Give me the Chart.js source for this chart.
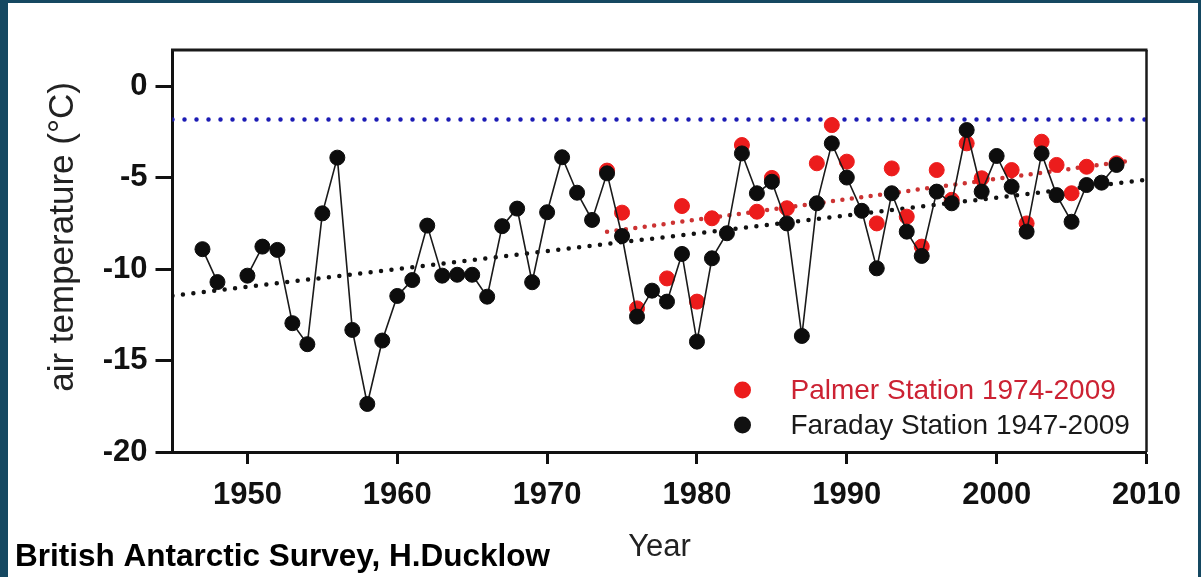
<!DOCTYPE html>
<html>
<head>
<meta charset="utf-8">
<title>Air temperature at Faraday and Palmer stations</title>
<script src="https://cdn.jsdelivr.net/npm/chart.js@4.4.1/dist/chart.umd.min.js"></script>
<style>
    html, body { margin: 0; padding: 0; }
    body { width: 1201px; height: 577px; background: #154861; overflow: hidden; }
    .panel { position: absolute; left: 8px; top: 3px; width: 1190px; height: 574px; background: #fff; }
</style>
</head>
<body>
<div class="panel"><canvas id="tempChart"></canvas></div>
<script>
// Annual mean air temperature (°C)
const faradayYears = [1947, 1948, 1949, 1950, 1951, 1952, 1953, 1954, 1955, 1956, 1957, 1958, 1959,
    1960, 1961, 1962, 1963, 1964, 1965, 1966, 1967, 1968, 1969, 1970, 1971, 1972, 1973, 1974,
    1975, 1976, 1977, 1978, 1979, 1980, 1981, 1982, 1983, 1984, 1985, 1986, 1987, 1988, 1989,
    1990, 1991, 1992, 1993, 1994, 1995, 1996, 1997, 1998, 1999, 2000, 2001, 2002, 2003, 2004,
    2005, 2006, 2007, 2008];
const faradayTemps = [-8.9, -10.7, null, -10.35, -8.76, -8.94, -12.95, -14.1, -6.94, -3.89, -13.32, -17.37, -13.9,
    -11.46, -10.59, -7.61, -10.35, -10.3, -10.3, -11.5, -7.64, -6.68, -10.71, -6.88, -3.87, -5.81, -7.3, -4.75,
    -8.18, -12.59, -11.17, -11.77, -9.16, -13.96, -9.4, -8.03, -3.66, -5.84, -5.21, -7.49, -13.65, -6.39, -3.11,
    -4.98, -6.8, -9.95, -5.84, -7.94, -9.27, -5.75, -6.39, -2.38, -5.75, -3.8, -5.48, -7.94, -3.66, -5.94,
    -7.4, -5.39, -5.26, -4.29];

const palmerYears = [1974, 1975, 1976, 1977, 1978, 1979, 1980, 1981, 1982, 1983, 1984, 1985, 1986, 1987,
    1988, 1989, 1990, 1991, 1992, 1993, 1994, 1995, 1996, 1997, 1998, 1999, 2000, 2001, 2002, 2003,
    2004, 2005, 2006, 2007, 2008];
const palmerTemps = [-4.6, -6.9, -12.14, null, -10.5, -6.54, -11.77, -7.21, null, -3.2, -6.85, -5.0, -6.66, null,
    -4.2, -2.11, -4.11, null, -7.49, -4.48, -7.12, -8.76, -4.57, -6.2, -3.11, -5.02, null, -4.57, -7.49, -3.02,
    -4.29, -5.84, -4.39, null, -4.2];

// Linear trends and the dotted reference level
const faradayTrendYears = [1945, 2010];
const faradayTrend = [-11.45, -5.1];
const palmerTrendYears = [1974, 2009];
const palmerTrend = [-7.95, -4.05];
const referenceYears = [1945, 2010];
const referenceLevel = [-1.8, -1.8];

const yearTicks = [1950, 1960, 1970, 1980, 1990, 2000, 2010];
const tempTicks = [0, -5, -10, -15, -20];

const stationNames = ['Palmer Station 1974-2009', 'Faraday Station 1947-2009'];

const FONT = "'Liberation Sans', Arial, Helvetica, sans-serif";

function toPoints(xs, ys) {
    return xs.map((x, i) => ({ x: x, y: ys[i] }));
}

document.addEventListener('DOMContentLoaded', function() {
    // Frame, rotated axis label, station key and credit line
    const decorations = {
        id: 'decorations',
        afterDatasetsDraw(chart) {
            const { ctx, chartArea: area } = chart;
            ctx.save();
            ctx.strokeStyle = '#1a1a1a';
            ctx.lineWidth = 3;
            ctx.beginPath();
            ctx.moveTo(area.left - 1.5, area.top);
            ctx.lineTo(area.right + 1, area.top);
            ctx.stroke();
            ctx.lineWidth = 2.5;
            ctx.beginPath();
            ctx.moveTo(area.right, area.top);
            ctx.lineTo(area.right, area.bottom);
            ctx.stroke();
            ctx.restore();
        },
        afterDraw(chart) {
            const { ctx, chartArea: area } = chart;
            ctx.save();

            // y axis label
            ctx.translate(55, 234);
            ctx.rotate(-Math.PI / 2);
            ctx.fillStyle = '#222';
            ctx.font = `35px ${FONT}`;
            ctx.textAlign = 'center';
            ctx.textBaseline = 'middle';
            ctx.fillText('air temperature (°C)', 0, 0);
            ctx.setTransform(1, 0, 0, 1, 0, 0);

            // station key
            const keyX = area.right - 404;
            const keyRows = [area.bottom - 62, area.bottom - 27];
            const keyColors = ['#ec1c1c', '#111'];
            const keyText = ['#cc2233', '#1a1a1a'];
            ctx.font = `28px ${FONT}`;
            ctx.textAlign = 'left';
            ctx.textBaseline = 'middle';
            stationNames.forEach((name, i) => {
                ctx.fillStyle = keyColors[i];
                ctx.beginPath();
                ctx.arc(keyX, keyRows[i], 8.5, 0, Math.PI * 2);
                ctx.fill();
                ctx.fillStyle = keyText[i];
                ctx.fillText(name, keyX + 48, keyRows[i] + 1);
            });

            // credit
            ctx.fillStyle = '#000';
            ctx.font = `bold 31.5px ${FONT}`;
            ctx.textBaseline = 'alphabetic';
            ctx.fillText('British Antarctic Survey, H.Ducklow', 7, 563);
            ctx.restore();
        }
    };

    const ctx = document.getElementById('tempChart').getContext('2d');

    new Chart(ctx, {
        type: 'scatter',
        data: {
            datasets: [
                {
                    label: stationNames[1],
                    data: toPoints(faradayYears, faradayTemps),
                    showLine: true,
                    spanGaps: false,
                    borderColor: '#1a1a1a',
                    borderWidth: 1.6,
                    pointRadius: 7.5,
                    pointBorderWidth: 1,
                    pointBackgroundColor: '#0d0d0d',
                    pointBorderColor: '#0d0d0d',
                    order: 0
                },
                {
                    label: stationNames[0],
                    data: toPoints(palmerYears, palmerTemps),
                    showLine: false,
                    pointRadius: 7.5,
                    pointBorderWidth: 1,
                    pointBackgroundColor: '#ec1c1c',
                    pointBorderColor: '#ec1c1c',
                    order: 1
                },
                {
                    label: 'Faraday trend',
                    data: toPoints(faradayTrendYears, faradayTrend),
                    showLine: true,
                    borderColor: '#111',
                    borderWidth: 4.5,
                    borderDash: [0, 10.5],
                    borderCapStyle: 'round',
                    pointRadius: 0,
                    order: 3
                },
                {
                    label: 'Palmer trend',
                    data: toPoints(palmerTrendYears, palmerTrend),
                    showLine: true,
                    borderColor: '#cc3333',
                    borderWidth: 4.5,
                    borderDash: [0, 9.5],
                    borderCapStyle: 'round',
                    pointRadius: 0,
                    order: 2
                },
                {
                    label: 'Reference',
                    data: toPoints(referenceYears, referenceLevel),
                    showLine: true,
                    borderColor: '#1c1cb4',
                    borderWidth: 4.5,
                    borderDash: [0, 12],
                    borderCapStyle: 'round',
                    pointRadius: 0,
                    order: 4
                }
            ]
        },
        options: {
            responsive: true,
            maintainAspectRatio: false,
            animation: false,
            layout: {
                padding: { top: 47, right: 51.5, left: 0, bottom: 0 }
            },
            scales: {
                x: {
                    type: 'linear',
                    min: 1945,
                    max: 2010,
                    afterBuildTicks: axis => {
                        axis.ticks = yearTicks.map(v => ({ value: v }));
                    },
                    afterFit: axis => {
                        axis.height = 125;
                    },
                    grid: {
                        drawOnChartArea: false,
                        drawTicks: true,
                        tickLength: 12,
                        tickWidth: 3,
                        tickColor: '#111'
                    },
                    border: { display: true, color: '#111', width: 3 },
                    ticks: {
                        padding: 13,
                        color: '#111',
                        maxRotation: 0,
                        callback: value => String(value),
                        font: { family: FONT, size: 31, weight: 'bold' }
                    },
                    title: {
                        display: true,
                        text: 'Year',
                        color: '#222',
                        padding: { top: 0, bottom: 11 },
                        font: { family: FONT, size: 31 }
                    }
                },
                y: {
                    type: 'linear',
                    min: -20,
                    max: 2,
                    afterBuildTicks: axis => {
                        axis.ticks = tempTicks.map(v => ({ value: v }));
                    },
                    afterFit: axis => {
                        axis.width = 164.5;
                    },
                    grid: {
                        drawOnChartArea: false,
                        drawTicks: true,
                        tickLength: 17,
                        tickWidth: 3,
                        tickColor: '#111'
                    },
                    border: { display: true, color: '#111', width: 3 },
                    ticks: {
                        padding: 8,
                        color: '#111',
                        font: { family: FONT, size: 31, weight: 'bold' }
                    }
                }
            },
            plugins: {
                legend: { display: false },
                tooltip: { enabled: false }
            }
        },
        plugins: [decorations]
    });
});
</script>
</body>
</html>
